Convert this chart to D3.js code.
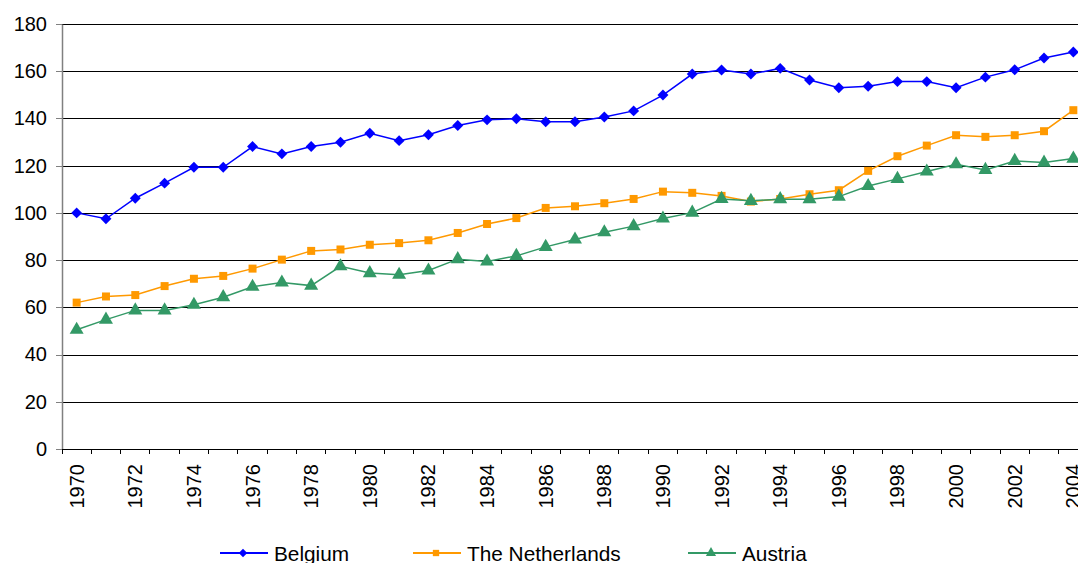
<!DOCTYPE html>
<html>
<head>
<meta charset="utf-8">
<script src="https://cdn.jsdelivr.net/npm/d3@7"></script>
<style>
  html, body { margin: 0; padding: 0; background: #fff; }
  svg { display: block; font-family: "Liberation Sans", Arial, sans-serif; }
</style>
</head>
<body>
<svg id="chart" width="1078" height="563"></svg>
<script>
const years = [1970,1971,1972,1973,1974,1975,1976,1977,1978,1979,1980,1981,1982,1983,1984,1985,1986,1987,1988,1989,1990,1991,1992,1993,1994,1995,1996,1997,1998,1999,2000,2001,2002,2003,2004];
const belgium = [100.0,97.5,106.2,112.6,119.3,119.3,128.1,125.0,128.1,129.9,133.7,130.6,133.1,137.0,139.4,139.9,138.6,138.6,140.6,143.2,149.9,158.8,160.5,158.8,161.2,156.3,153.0,153.6,155.6,155.6,153.0,157.5,160.6,165.6,168.1];
const netherlands = [62.0,64.6,65.2,69.0,72.1,73.3,76.4,80.2,83.9,84.5,86.5,87.2,88.4,91.5,95.3,97.8,102.1,102.8,104.1,105.9,109.0,108.5,107.2,104.8,105.9,107.9,109.6,117.8,124.0,128.5,132.9,132.2,132.9,134.6,143.5];
const austria = [50.5,54.8,58.7,58.7,61.1,64.3,68.7,70.5,69.2,77.4,74.5,73.8,75.6,80.4,79.4,81.8,85.6,88.7,91.8,94.4,97.6,100.1,105.9,105.1,105.8,105.8,106.9,111.4,114.4,117.5,120.6,118.2,122.0,121.3,123.0];
const seriesNames = ["Belgium", "The Netherlands", "Austria"];
const yTicks = [0,20,40,60,80,100,120,140,160,180];
const xLabelYears = years.filter(y => y % 2 === 0);

(function () {
const colors = ["#0000FF", "#FF9900", "#339966"];
const symbols = [d3.symbolSquare, d3.symbolSquare, d3.symbolTriangle];
const rotations = [45, 0, 0];
const seriesData = [belgium, netherlands, austria];

const svg = d3.select("#chart");
const mLeft = 62, mRight = 1088, mTop = 24, mBottom = 449;

const x = d3.scaleBand().domain(years).range([mLeft, mRight]).padding(0);
const y = d3.scaleLinear().domain([0, 180]).range([mBottom, mTop]);
const cx = d => x(d) + x.bandwidth() / 2;

// gridlines
svg.append("g")
  .attr("transform", `translate(${mLeft},0)`)
  .call(d3.axisLeft(y).tickValues(yTicks.slice(1)).tickSize(-(mRight - mLeft)).tickFormat(""))
  .call(g => g.select(".domain").remove())
  .call(g => g.selectAll("line").attr("stroke", "#000").attr("shape-rendering", "crispEdges"));

// y axis
const yAxis = svg.append("g")
  .attr("transform", `translate(${mLeft},0)`)
  .call(d3.axisLeft(y).tickValues(yTicks).tickSize(6).tickPadding(9).tickSizeOuter(0));
yAxis.select(".domain").attr("stroke", "#808080").attr("stroke-width", 1.5);
yAxis.selectAll(".tick line").attr("stroke", "#808080").attr("shape-rendering", "crispEdges");
yAxis.selectAll("text").attr("font-size", 20).attr("fill", "#000").attr("font-family", "Liberation Sans, Arial, sans-serif");

// x axis line + ticks at band boundaries
const xg = svg.append("g");
xg.append("line").attr("x1", mLeft).attr("x2", mRight).attr("y1", mBottom).attr("y2", mBottom)
  .attr("stroke", "#000").attr("shape-rendering", "crispEdges");
const boundaries = years.map(d => x(d)).concat([x(years[years.length - 1]) + x.bandwidth()]);
xg.selectAll("line.tk").data(boundaries).join("line").attr("class", "tk")
  .attr("x1", d => d).attr("x2", d => d).attr("y1", mBottom).attr("y2", mBottom + 5)
  .attr("stroke", "#000").attr("shape-rendering", "crispEdges");
xg.selectAll("text").data(xLabelYears).join("text")
  .attr("transform", d => `translate(${cx(d)},464) rotate(-90)`)
  .attr("text-anchor", "end")
  .attr("dy", "0.35em")
  .attr("font-size", 20)
  .attr("fill", "#000")
  .text(d => d);

// lines and markers
const line = d3.line().x((d, i) => cx(years[i])).y(d => y(d));
const sizes = [60, 64, 85];
seriesData.forEach((vals, k) => {
  svg.append("path").datum(vals)
    .attr("fill", "none").attr("stroke", colors[k]).attr("stroke-width", 1.5)
    .attr("d", line);
  svg.append("g").selectAll("path").data(vals).join("path")
    .attr("transform", (d, i) => `translate(${cx(years[i])},${y(d)}) rotate(${rotations[k]})`)
    .attr("d", d3.symbol().type(symbols[k]).size(sizes[k]))
    .attr("fill", colors[k]);
});

// legend
const legendX = [220, 413, 688];
const legY = 553;
seriesNames.forEach((name, k) => {
  const g = svg.append("g").attr("transform", `translate(${legendX[k]},${legY})`);
  g.append("line").attr("x1", 0).attr("x2", 48).attr("y1", 0).attr("y2", 0)
    .attr("stroke", colors[k]).attr("stroke-width", 2);
  g.append("path").attr("transform", `translate(23,0) rotate(${rotations[k]})`)
    .attr("d", d3.symbol().type(symbols[k]).size([36, 40, 45][k]))
    .attr("fill", colors[k]);
  g.append("text").attr("x", 54).attr("y", 0).attr("dy", "0.36em")
    .attr("font-size", 20.8).attr("fill", "#000").text(name);
});
})();
</script>
</body>
</html>
